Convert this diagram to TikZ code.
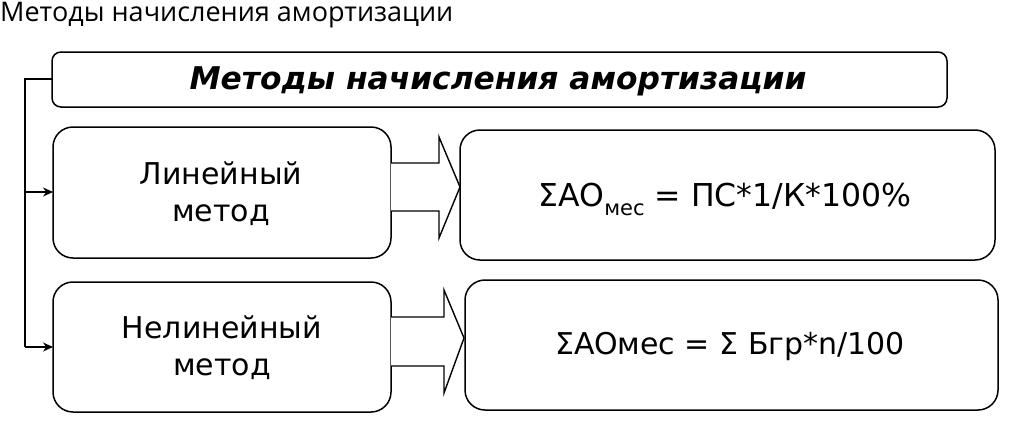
\documentclass[tikz,border=0pt]{standalone}
\usepackage{fontspec}
\setmainfont{DejaVu Sans}
\newfontfamily\titlefont{Open Sans}
\usetikzlibrary{arrows.meta}
\begin{document}
\begin{tikzpicture}[x=1pt,y=-1pt,
  box/.style={draw,line width=1.5pt,rounded corners=#1},
  lbl/.style={font=\fontsize{30}{37}\selectfont,align=center,inner sep=0},
  frm/.style={font=\fontsize{30}{34}\selectfont,inner sep=0},
  conn/.style={line width=1.4pt},
  barrow/.style={line width=1.4pt,line join=miter}]
\useasboundingbox (0,0) rectangle (1024,434);
\node[anchor=base west,inner sep=0,font=\titlefont\fontsize{27}{30}\selectfont] (title) at (0,21) {Методы начисления амортизации};
% top box
\draw[box=9pt] (52,52) rectangle (947,107);
\node[inner sep=0,font=\bfseries\itshape\fontsize{31.3}{34}\selectfont] (head) at (498,81) {Методы начисления амортизации};
\coordinate (topL) at (52,79);
% left boxes
\draw[box=20pt] (53,127) rectangle (391,258);
\node[lbl] (lin) at (221,194) {Линейный\\метод};
\coordinate (linL) at (53,192);
\draw[box=20pt] (53,282) rectangle (391,412);
\node[lbl] (nlin) at (222,348) {Нелинейный\\метод};
\coordinate (nlinL) at (53,347);
% right boxes
\draw[box=20pt] (460,130) rectangle (995,260);
\node[frm,font=\fontsize{31.5}{34}\selectfont] (f1) at (725,199) {ΣAO\raisebox{-9pt}{\fontsize{21}{22}\selectfont мес} = ПС*1/К*100\%};
\draw[box=20pt] (465,280) rectangle (998,410);
\node[frm] (f2) at (730,346) {ΣAOмес = Σ Бгр*n/100};
% connectors
\coordinate (spine) at (25,79);
\draw[conn] (topL) -- (spine) -- (25,347);
\draw[conn,-{Stealth[length=10pt,width=9pt]}] (25,192) -- (linL);
\draw[conn,-{Stealth[length=10pt,width=9pt]}] (25,347) -- (nlinL);
% block arrows
\draw[barrow,fill=white] (391,163) -- (439,163) -- (439,137) -- (460,187) -- (439,238) -- (439,211) -- (391,211);
\draw[barrow,fill=white] (391,317) -- (444,317) -- (444,290) -- (464,338) -- (444,393) -- (444,366) -- (391,366);
\end{tikzpicture}
\end{document}
